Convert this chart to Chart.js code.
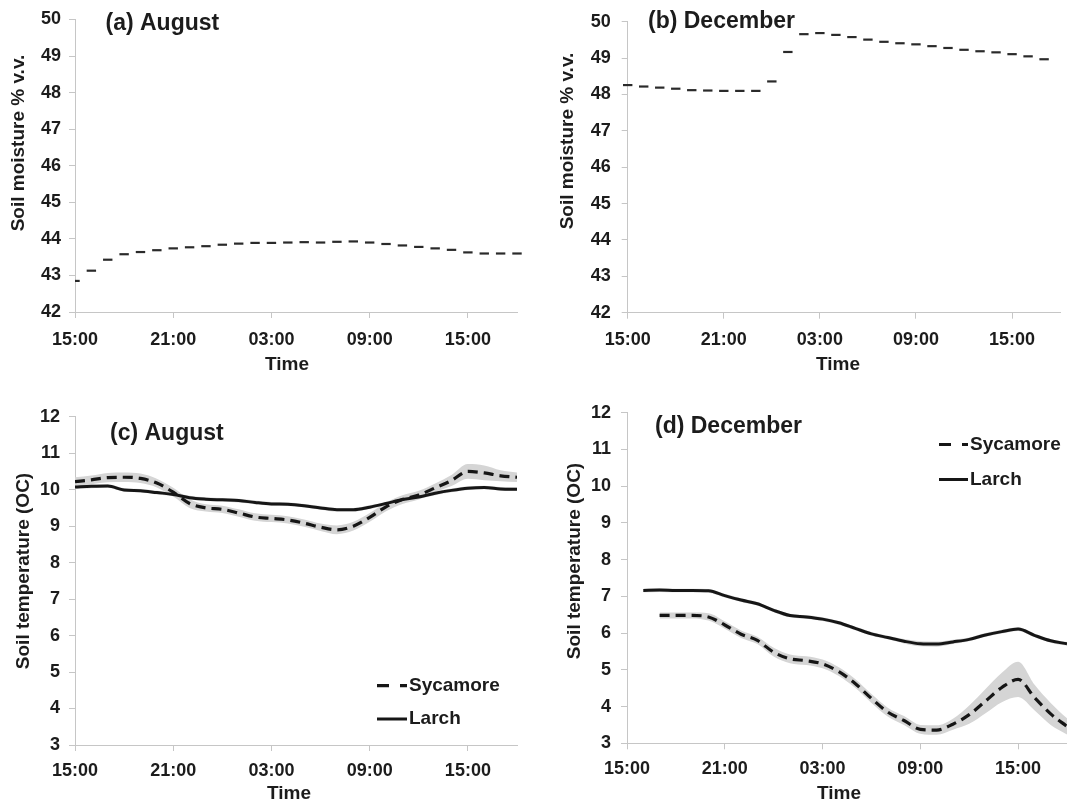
<!DOCTYPE html>
<html><head><meta charset="utf-8">
<script src="https://cdn.jsdelivr.net/npm/chart.js@4.4.1/dist/chart.umd.min.js"></script>
<style>
html,body{margin:0;padding:0;background:#fff;}
body{width:1067px;height:801px;position:relative;overflow:hidden;}
.panel{position:absolute;}
canvas{display:block;}
</style></head><body>
<div class="panel" style="left:0px;top:0px;width:530px;height:390px"><canvas id="ca" width="530" height="390"></canvas></div>
<div class="panel" style="left:530px;top:0px;width:537px;height:390px"><canvas id="cb" width="537" height="390"></canvas></div>
<div class="panel" style="left:0px;top:390px;width:530px;height:411px"><canvas id="cc" width="530" height="411"></canvas></div>
<div class="panel" style="left:530px;top:390px;width:537px;height:411px"><canvas id="cd" width="537" height="411"></canvas></div>
<script>
// ---------- DATA (hourly, index 0 = 15:00) ----------
const tickLabels = ['15:00', '21:00', '03:00', '09:00', '15:00'];

const moistureAug = [42.85, 43.13, 43.43, 43.58, 43.64, 43.69, 43.74, 43.77, 43.80, 43.84, 43.87, 43.89, 43.89, 43.90,
  43.91, 43.90, 43.92, 43.93, 43.90, 43.86, 43.82, 43.78, 43.74, 43.70, 43.63, 43.60, 43.60, 43.60];
const moistureDec = [48.26, 48.22, 48.19, 48.16, 48.12, 48.11, 48.10, 48.10, 48.10, 48.36, 49.17, 49.66, 49.69, 49.64,
  49.58, 49.51, 49.45, 49.41, 49.38, 49.33, 49.28, 49.23, 49.19, 49.16, 49.11, 49.05, 48.97, null];

const sycamoreAug = [10.22, 10.27, 10.33, 10.34, 10.31, 10.18, 9.93, 9.62, 9.50, 9.46, 9.36, 9.25, 9.21, 9.17,
  9.08, 8.97, 8.90, 9.00, 9.24, 9.53, 9.73, 9.85, 10.05, 10.25, 10.50, 10.46, 10.38, 10.34];
const sycamoreAugErr = [0.12, 0.12, 0.13, 0.13, 0.13, 0.12, 0.12, 0.12, 0.10, 0.10, 0.10, 0.10, 0.10, 0.10,
  0.10, 0.10, 0.12, 0.12, 0.12, 0.12, 0.12, 0.12, 0.12, 0.15, 0.20, 0.20, 0.15, 0.13];
const larchAug = [10.07, 10.09, 10.10, 9.99, 9.97, 9.92, 9.87, 9.78, 9.74, 9.72, 9.70, 9.65, 9.61, 9.60,
  9.56, 9.50, 9.45, 9.45, 9.52, 9.62, 9.73, 9.80, 9.90, 9.98, 10.04, 10.06, 10.02, 10.01];
const larchAugErr = [0.05, 0.05, 0.05, 0.05, 0.05, 0.05, 0.05, 0.05, 0.05, 0.05, 0.05, 0.05, 0.05, 0.05,
  0.05, 0.05, 0.05, 0.05, 0.05, 0.05, 0.05, 0.05, 0.05, 0.05, 0.05, 0.05, 0.05, 0.05];

const sycamoreDec = [null, null, 6.48, 6.48, 6.48, 6.44, 6.22, 5.97, 5.80, 5.48, 5.30, 5.25, 5.16, 4.95,
  4.63, 4.22, 3.85, 3.62, 3.38, 3.36, 3.52, 3.78, 4.15, 4.52, 4.74, 4.25, 3.80, 3.46];
const sycamoreDecErr = [null, null, 0.08, 0.08, 0.08, 0.10, 0.10, 0.10, 0.10, 0.12, 0.12, 0.12, 0.12, 0.12,
  0.12, 0.12, 0.12, 0.12, 0.12, 0.13, 0.15, 0.25, 0.33, 0.40, 0.48, 0.35, 0.30, 0.22];
const larchDec = [null, 7.16, 7.17, 7.16, 7.16, 7.15, 7.02, 6.90, 6.80, 6.62, 6.48, 6.44, 6.38, 6.28,
  6.13, 5.98, 5.88, 5.78, 5.71, 5.70, 5.76, 5.83, 5.95, 6.04, 6.11, 5.94, 5.79, 5.71];
const larchDecErr = [null, 0.05, 0.05, 0.05, 0.05, 0.05, 0.05, 0.05, 0.05, 0.05, 0.05, 0.05, 0.05, 0.05,
  0.05, 0.05, 0.05, 0.06, 0.07, 0.07, 0.06, 0.05, 0.05, 0.05, 0.05, 0.05, 0.05, 0.05];

// ---------- STYLE ----------
const FONT = '"Liberation Sans", Arial, sans-serif';
const TXT = '#1c1c1c';
const AXIS = '#c6c6c6';
const LINE = '#161616';
const BAND = '#d5d5d5';

const pts = arr => arr.map((v, i) => ({x: i, y: v}));
const band = (arr, err, s) => arr.map((v, i) => ({x: i, y: v === null ? null : v + s * err[i]}));

const annot = {
  id: 'annot',
  afterDraw(chart, args, o) {
    const ctx = chart.ctx;
    ctx.save();
    ctx.fillStyle = TXT;
    ctx.textBaseline = 'middle';
    for (const t of o.texts) {
      ctx.font = 'bold ' + t.size + 'px ' + FONT;
      if (t.rot) {
        ctx.save();
        ctx.translate(t.x - o.ox, t.y - o.oy);
        ctx.rotate(-Math.PI / 2);
        ctx.textAlign = 'center';
        ctx.fillText(t.text, 0, 0);
        ctx.restore();
      } else {
        ctx.textAlign = t.align || 'left';
        ctx.fillText(t.text, t.x - o.ox, t.y - o.oy);
      }
    }
    for (const l of (o.legend || [])) {
      const ds = chart.data.datasets[l.ds];
      ctx.beginPath();
      ctx.setLineDash(l.dash);
      ctx.lineWidth = ds.borderWidth;
      ctx.strokeStyle = ds.borderColor;
      ctx.moveTo(l.x0 - o.ox, l.y - o.oy);
      ctx.lineTo(l.x1 - o.ox, l.y - o.oy);
      ctx.stroke();
      ctx.setLineDash([]);
      ctx.font = 'bold 19px ' + FONT;
      ctx.textAlign = 'left';
      ctx.fillText(ds.label, l.tx - o.ox, l.y - o.oy);
    }
    ctx.restore();
  }
};

function options(c) {
  const tickFont = {family: FONT, size: 18, weight: 'bold'};
  return {
    responsive: false, animation: false, devicePixelRatio: 1,
    layout: {padding: {left: 0, top: c.padTop, right: c.padRight, bottom: 0}},
    plugins: {
      legend: {display: false}, tooltip: {enabled: false},
      annot: {ox: c.ox, oy: c.oy, texts: c.texts, legend: c.legend}
    },
    scales: {
      x: {
        type: 'linear', min: 0, max: 27,
        afterFit: s => { s.height = c.xH; },
        grid: {display: true, drawOnChartArea: false, drawTicks: true, tickLength: 6, color: AXIS},
        border: {display: true, color: AXIS, width: 1},
        ticks: {stepSize: 6, includeBounds: false, autoSkip: false, maxRotation: 0, minRotation: 0,
          padding: c.xPad, color: TXT, font: tickFont,
          callback: v => (v % 6 === 0 && tickLabels[v / 6] !== undefined) ? tickLabels[v / 6] : ''}
      },
      y: {
        min: c.min, max: c.max,
        afterFit: s => { s.width = c.yW; },
        grid: {display: true, drawOnChartArea: false, drawTicks: true, tickLength: 6, color: AXIS},
        border: {display: true, color: AXIS, width: 1},
        ticks: {stepSize: 1, padding: c.yPad, color: TXT, font: tickFont}
      }
    }
  };
}

function moistureDataset(arr, clip) {
  return {
    label: 'Soil moisture', data: pts(arr), showLine: false,
    pointStyle: 'line', pointRadius: 4.7, pointHoverRadius: 4.7,
    pointBorderWidth: 2.2, pointBorderColor: '#2a2a2a', pointBackgroundColor: '#2a2a2a',
    borderColor: '#2a2a2a', clip: clip
  };
}

function tempDatasets(syc, sycErr, lar, larErr) {
  return [
    {label: 'Sycamore', data: pts(syc), borderColor: LINE, borderWidth: 3.2, borderDash: [10, 6],
      pointRadius: 0, cubicInterpolationMode: 'monotone', fill: false, spanGaps: false},
    {label: 'Larch', data: pts(lar), borderColor: LINE, borderWidth: 3, pointRadius: 0,
      cubicInterpolationMode: 'monotone', fill: false, spanGaps: false},
    {label: 'sy+', data: band(syc, sycErr, 1), borderWidth: 0, pointRadius: 0, cubicInterpolationMode: 'monotone', fill: false},
    {label: 'sy-', data: band(syc, sycErr, -1), borderWidth: 0, pointRadius: 0, cubicInterpolationMode: 'monotone',
      fill: '-1', backgroundColor: BAND},
    {label: 'la+', data: band(lar, larErr, 1), borderWidth: 0, pointRadius: 0, cubicInterpolationMode: 'monotone', fill: false},
    {label: 'la-', data: band(lar, larErr, -1), borderWidth: 0, pointRadius: 0, cubicInterpolationMode: 'monotone',
      fill: '-1', backgroundColor: BAND}
  ];
}

// (a) August moisture
new Chart(document.getElementById('ca'), {
  type: 'line',
  data: {datasets: [moistureDataset(moistureAug, {left: 0, top: false, right: false, bottom: false})]},
  options: options({ox: 0, oy: 0, padTop: 19.5, padRight: 13, yW: 75, xH: 78, xPad: 11, yPad: 8, min: 42, max: 50,
    texts: [
      {text: '(a) August', x: 105.5, y: 23.7, size: 23},
      {text: 'Soil moisture % v.v.', x: 18.6, y: 143, size: 19, rot: true},
      {text: 'Time', x: 287, y: 365, size: 19, align: 'center'}
    ]}),
  plugins: [annot]
});

// (b) December moisture
new Chart(document.getElementById('cb'), {
  type: 'line',
  data: {datasets: [moistureDataset(moistureDec, false)]},
  options: options({ox: 530, oy: 0, padTop: 19.3, padRight: 0, yW: 97.7, xH: 77.3, xPad: 11, yPad: 11, min: 42, max: 50,
    texts: [
      {text: '(b) December', x: 648, y: 22, size: 23},
      {text: 'Soil moisture % v.v.', x: 567.5, y: 141, size: 19, rot: true},
      {text: 'Time', x: 838, y: 365, size: 19, align: 'center'}
    ]}),
  plugins: [annot]
});

// (c) August temperature
new Chart(document.getElementById('cc'), {
  type: 'line',
  data: {datasets: tempDatasets(sycamoreAug, sycamoreAugErr, larchAug, larchAugErr)},
  options: options({ox: 0, oy: 390, padTop: 26.7, padRight: 13, yW: 75, xH: 56, xPad: 9, yPad: 9, min: 3, max: 12,
    texts: [
      {text: '(c) August', x: 110, y: 434, size: 23},
      {text: 'Soil temperature (OC)', x: 23.3, y: 571, size: 19, rot: true},
      {text: 'Time', x: 289, y: 794, size: 19, align: 'center'}
    ],
    legend: [
      {ds: 0, x0: 377, x1: 407, tx: 409, y: 685.7, dash: [12, 11]},
      {ds: 1, x0: 377, x1: 407, tx: 409, y: 719, dash: []}
    ]}),
  plugins: [annot]
});

// (d) December temperature
new Chart(document.getElementById('cd'), {
  type: 'line',
  data: {datasets: tempDatasets(sycamoreDec, sycamoreDecErr, larchDec, larchDecErr)},
  options: options({ox: 530, oy: 390, padTop: 22.7, padRight: 0, yW: 97, xH: 57.7, xPad: 9, yPad: 10, min: 3, max: 12,
    texts: [
      {text: '(d) December', x: 655, y: 427, size: 23},
      {text: 'Soil temperature (OC)', x: 574.5, y: 561, size: 19, rot: true},
      {text: 'Time', x: 839, y: 794, size: 19, align: 'center'}
    ],
    legend: [
      {ds: 0, x0: 939, x1: 968, tx: 970, y: 444.5, dash: [12, 11]},
      {ds: 1, x0: 939, x1: 968, tx: 970, y: 479.5, dash: []}
    ]}),
  plugins: [annot]
});
</script>
</body></html>
